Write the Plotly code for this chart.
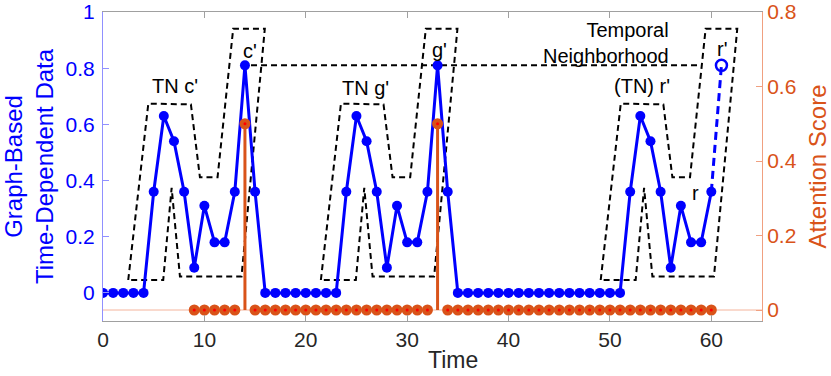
import plotly.graph_objects as go

# time-dependent signal (blue) sampled at integer time steps 0..60
time = list(range(0, 61))
signal = [0, 0, 0, 0, 0,
          0.36, 0.63, 0.54, 0.36, 0.09, 0.31, 0.18, 0.18, 0.36, 0.81, 0.36,
          0, 0, 0, 0, 0, 0, 0, 0,
          0.36, 0.63, 0.54, 0.36, 0.09, 0.31, 0.18, 0.18, 0.36, 0.81, 0.36,
          0, 0, 0, 0, 0, 0, 0, 0, 0, 0, 0, 0, 0, 0, 0, 0, 0,
          0.36, 0.63, 0.54, 0.36, 0.09, 0.31, 0.18, 0.18, 0.36]

# predicted next value r'
pred_time = [60, 61]
pred_val = [0.36, 0.81]

# attention scores (orange stems), defined from t=9 onwards
att_time = list(range(9, 61))
att_score = [0, 0, 0, 0, 0, 0.5,
             0, 0, 0, 0, 0, 0, 0, 0, 0, 0, 0, 0, 0, 0, 0, 0, 0, 0, 0.5,
             0, 0, 0, 0, 0, 0, 0, 0, 0, 0, 0, 0, 0, 0, 0, 0, 0, 0, 0, 0,
             0, 0, 0, 0, 0, 0, 0]

# outline of a temporal-neighbourhood box (TN + peak), and where it is repeated
box_x = [2.49, 4.47, 8.67, 9.56, 11.3, 12.84, 15.96, 13.66, 7.59, 6.77, 5.94, 2.49]
box_y = [0.046, 0.674, 0.671, 0.412, 0.412, 0.94, 0.94, 0.058, 0.058, 0.374, 0.046, 0.046]
box_offsets = [0, 19, 46.6]

# dashed line linking the peaks
link_x = [14.6, 59.0]
link_y = [0.81, 0.81]

labels = ["TN c'", "c'", "TN g'", "g'", "(TN) r'", "r'", "r"]
label_x = [7.1, 14.5, 25.9, 33.2, 53.2, 61.05, 58.4]
label_y = [0.736, 0.862, 0.73, 0.866, 0.736, 0.87, 0.357]

BLUE = "#0000FF"
ORANGE = "#D95319"
FONT = "Liberation Sans, Arial, sans-serif"

fig = go.Figure()

# baseline of the stem plot
fig.add_trace(go.Scatter(x=[0, 65], y=[0, 0], yaxis="y2", mode="lines",
                         line=dict(color="#F4B49C", width=1), hoverinfo="skip"))

# dashed boxes
for off in box_offsets:
    fig.add_trace(go.Scatter(x=[v + off for v in box_x], y=box_y, mode="lines",
                             line=dict(color="black", width=2, dash="6px,4px"),
                             hoverinfo="skip"))
fig.add_trace(go.Scatter(x=link_x, y=link_y, mode="lines",
                         line=dict(color="black", width=2, dash="6px,4px"),
                         hoverinfo="skip"))

# stems with non-zero attention
stem_x, stem_y = [], []
for t, a in zip(att_time, att_score):
    if a != 0:
        stem_x += [t, t, None]
        stem_y += [0, a, None]
fig.add_trace(go.Scatter(x=stem_x, y=stem_y, yaxis="y2", mode="lines",
                         line=dict(color=ORANGE, width=3), hoverinfo="skip"))

# signal
fig.add_trace(go.Scatter(x=time, y=signal, mode="lines+markers",
                         line=dict(color=BLUE, width=3),
                         marker=dict(color=BLUE, size=10)))
fig.add_trace(go.Scatter(x=pred_time, y=pred_val, mode="lines",
                         line=dict(color=BLUE, width=3, dash="8px,5px")))
fig.add_trace(go.Scatter(x=pred_time[1:], y=pred_val[1:], mode="markers",
                         marker=dict(color=BLUE, size=11, symbol="circle-open",
                                     line=dict(color=BLUE, width=2.5))))

# attention markers
fig.add_trace(go.Scatter(x=att_time, y=att_score, yaxis="y2", mode="markers",
                         marker=dict(color=ORANGE, size=11, line=dict(width=0))))
fig.add_trace(go.Scatter(x=att_time, y=att_score, yaxis="y2", mode="markers",
                         marker=dict(color="#FF0000", size=3, line=dict(width=0))))

annotations = []
for txt, lx, ly in zip(labels, label_x, label_y):
    annotations.append(dict(x=lx, y=ly, text=txt, showarrow=False,
                            font=dict(size=20, color="black", family=FONT)))
annotations.append(dict(x=56.0, y=0.89, text="Temporal<br>Neighborhood",
                        showarrow=False, xanchor="right", yanchor="middle",
                        align="right",
                        font=dict(size=20, color="black", family=FONT)))
annotations.append(dict(xref="paper", yref="paper", x=(453 - 103) / 659, y=0,
                        yshift=-39, yanchor="middle", text="Time", showarrow=False,
                        font=dict(size=23, color="#262626", family=FONT)))

fig.update_layout(
    width=831, height=376,
    margin=dict(l=103, r=69, t=12, b=55, autoexpand=False),
    paper_bgcolor="white", plot_bgcolor="white",
    showlegend=False,
    font=dict(family=FONT),
    annotations=annotations,
    xaxis=dict(range=[0, 65], tickvals=[0, 10, 20, 30, 40, 50, 60],
               showgrid=False, zeroline=False, showline=True, mirror="ticks",
               automargin=False,
               linecolor="#A0A0A0", linewidth=1, ticks="inside", ticklen=6,
               tickcolor="#A0A0A0", tickfont=dict(size=21, color="#262626")),
    yaxis=dict(range=[-0.1, 1], tickvals=[0, 0.2, 0.4, 0.6, 0.8, 1],
               title=dict(text="Graph-Based<br>Time-Dependent Data", standoff=9,
                          font=dict(size=24, color=BLUE, family=FONT)),
               showgrid=False, zeroline=False, showline=True, automargin=False,
               ticklabelstandoff=3,
               linecolor="#9090FF", linewidth=1, ticks="inside", ticklen=6,
               tickcolor="#9090FF", tickfont=dict(size=21, color=BLUE)),
    yaxis2=dict(range=[-0.0295, 0.8], tickvals=[0, 0.2, 0.4, 0.6, 0.8],
                title=dict(text="Attention Score", standoff=22,
                           font=dict(size=24, color=ORANGE, family=FONT)),
                overlaying="y", side="right", automargin=False,
                showgrid=False, zeroline=False, showline=True,
                linecolor="#F0A080", linewidth=1, ticks="inside", ticklen=6,
                tickcolor="#F0A080", tickfont=dict(size=21, color=ORANGE)),
)

# drop the browser's default body margin so the figure sits at the page corner
fig.write_html("out.html", config={"displayModeBar": False},
               post_script="document.body.style.margin = '0';")
